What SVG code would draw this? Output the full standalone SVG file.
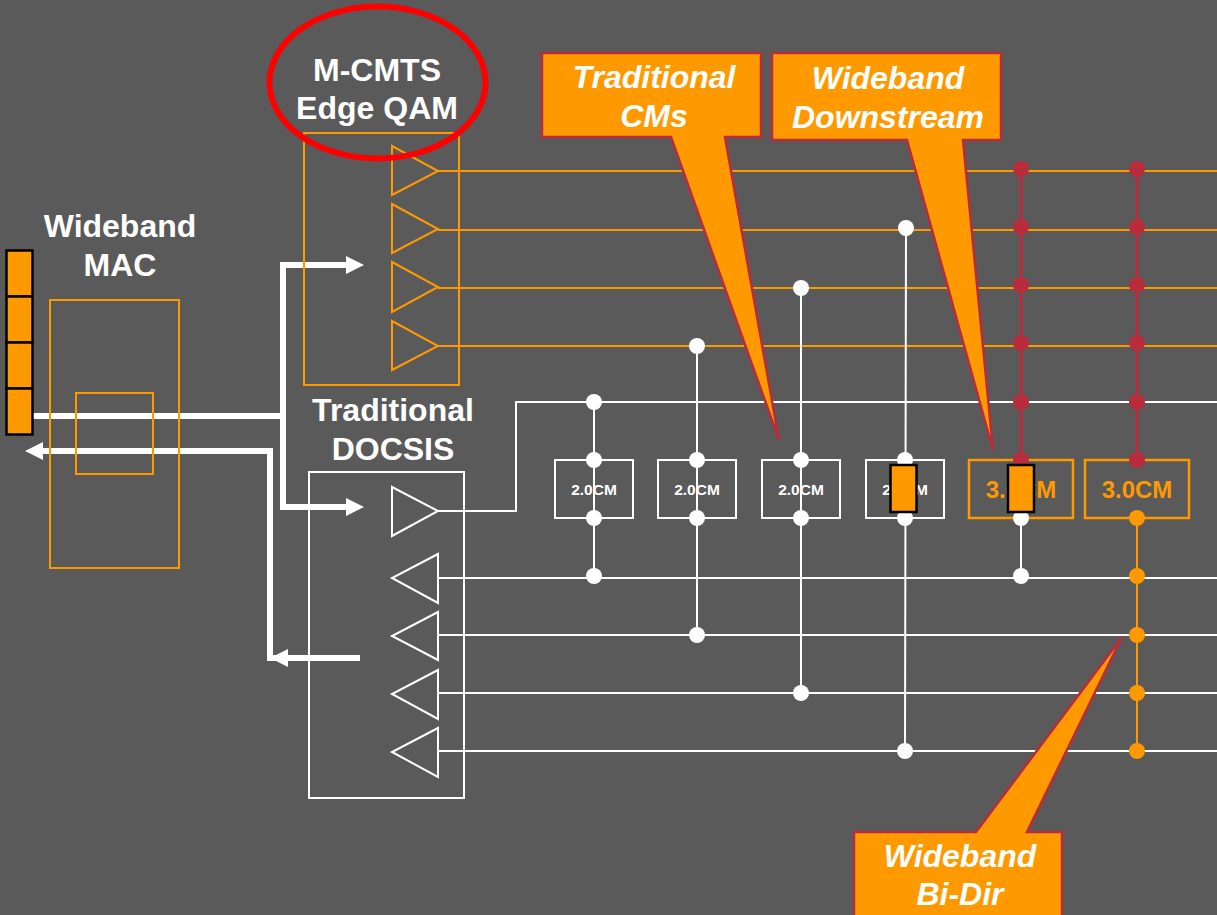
<svg xmlns="http://www.w3.org/2000/svg" width="1217" height="915" viewBox="0 0 1217 915">
<style>
.o{fill:none;stroke:#f90;stroke-width:2}
.w{fill:none;stroke:#fff;stroke-width:2}
.r{fill:none;stroke:#b82c3c;stroke-width:3}
.oc{fill:none;stroke:#f90;stroke-width:2.5}
.b{fill:none;stroke:#fff;stroke-width:6}
.ah{fill:#fff}
.dw{fill:#fff}.dr{fill:#b82c3c}.do{fill:#f90}
.cell{fill:#f90;stroke:#000;stroke-width:2.5}
.co{fill:#f90;stroke:#b82c3c;stroke-width:2.5}
text{font-family:"Liberation Sans",Arial,sans-serif;font-weight:bold;text-anchor:middle}
.t{fill:#fff;font-size:32px}
.i{fill:#fff;font-size:32px;font-style:italic}
.s{fill:#fff;font-size:15.5px}
.l{fill:#f90;font-size:24px}
</style>
<rect width="1217" height="915" fill="#5a5a5a"/>
<g id="connectors">
<path class="o" d="M438 171H1217M438 230H1217M438 288H1217M438 346H1217"/>
<path class="w" d="M438 511H516V402H1217M438 578H1217M438 635H1217M438 693H1217M438 751H1217"/>
<path class="w" d="M594 402V576M697 346V635M801 288V693M906 228L905 751M1021 518V576"/>
<path class="r" d="M1021 169V460M1137 169V460"/>
<path class="o" d="M1137 518V751"/>
<path class="b" d="M33 416H283M283 262V510M283 265H348M283 507H348M40 451H270V661M272 658H360"/>
<path class="ah" d="M364 265L346 256V274ZM364 507L346 498V516ZM25 451L43 442V460ZM270 658L288 649V667Z"/>
</g>
<g id="wideband-mac">
<rect class="o" x="50" y="300" width="129" height="268"/>
<rect class="o" x="76" y="393" width="77" height="81"/>
<text class="t" x="120" y="237">Wideband</text>
<text class="t" x="120" y="276">MAC</text>
</g>
<g id="queue">
<rect class="cell" x="6.500" y="250.500" width="26" height="46"/>
<rect class="cell" x="6.500" y="296.500" width="26" height="46"/>
<rect class="cell" x="6.500" y="342.500" width="26" height="46"/>
<rect class="cell" x="6.500" y="388.500" width="26" height="46"/>
</g>
<g id="edge-qam">
<rect class="o" x="304" y="133" width="155" height="252"/>
<path class="o" d="M392 146L438 171L392 195ZM392 204L438 229L392 253ZM392 262L438 287L392 312ZM392 321L438 346L392 370Z"/>
<text class="t" x="377" y="81">M-CMTS</text>
<text class="t" x="377" y="119">Edge QAM</text>
<ellipse cx="377.500" cy="82.500" rx="108" ry="76" fill="none" stroke="#f00" stroke-width="6"/>
</g>
<g id="docsis">
<rect class="w" x="309" y="472" width="155" height="326"/>
<path class="w" d="M392 487L438 511L392 536ZM438 554L392 578L438 603ZM438 612L392 636L438 660ZM438 670L392 694L438 719ZM438 728L392 752L438 777Z"/>
<text class="t" x="393" y="421">Traditional</text>
<text class="t" x="393" y="460">DOCSIS</text>
</g>
<g id="cm1"><rect class="w" x="555" y="460" width="78" height="58"/><text class="s" x="594" y="495">2.0CM</text>
<circle class="dw" cx="594" cy="402" r="8"/><circle class="dw" cx="594" cy="460" r="8"/><circle class="dw" cx="594" cy="518" r="8"/><circle class="dw" cx="594" cy="576" r="8"/></g>
<g id="cm2"><rect class="w" x="658" y="460" width="78" height="58"/><text class="s" x="697" y="495">2.0CM</text>
<circle class="dw" cx="697" cy="346" r="8"/><circle class="dw" cx="697" cy="460" r="8"/><circle class="dw" cx="697" cy="518" r="8"/><circle class="dw" cx="697" cy="635" r="8"/></g>
<g id="cm3"><rect class="w" x="762" y="460" width="78" height="58"/><text class="s" x="801" y="495">2.0CM</text>
<circle class="dw" cx="801" cy="288" r="8"/><circle class="dw" cx="801" cy="460" r="8"/><circle class="dw" cx="801" cy="518" r="8"/><circle class="dw" cx="801" cy="693" r="8"/></g>
<g id="cm4"><rect class="w" x="866" y="460" width="78" height="58"/><text class="s" x="905" y="495">2.0CM</text>
<circle class="dw" cx="906" cy="228" r="8"/><circle class="dw" cx="905" cy="460" r="8"/><circle class="dw" cx="905" cy="518" r="8"/><circle class="dw" cx="905" cy="751" r="8"/>
<rect class="cell" x="890.500" y="465" width="26" height="47"/></g>
<g id="cm5"><rect class="oc" x="969" y="460" width="104" height="58"/><text class="l" x="1021" y="498">3.0CM</text>
<circle class="dr" cx="1021" cy="169" r="8"/><circle class="dr" cx="1021" cy="227" r="8"/><circle class="dr" cx="1021" cy="285" r="8"/><circle class="dr" cx="1021" cy="343" r="8"/><circle class="dr" cx="1021" cy="402" r="8"/><circle class="dr" cx="1021" cy="460" r="8"/>
<circle class="dw" cx="1021" cy="518" r="8"/><circle class="dw" cx="1021" cy="576" r="8"/>
<rect class="cell" x="1008" y="465" width="26" height="47"/></g>
<g id="cm6"><rect class="oc" x="1085" y="460" width="104" height="58"/><text class="l" x="1137" y="498">3.0CM</text>
<circle class="dr" cx="1137" cy="169" r="8"/><circle class="dr" cx="1137" cy="227" r="8"/><circle class="dr" cx="1137" cy="285" r="8"/><circle class="dr" cx="1137" cy="343" r="8"/><circle class="dr" cx="1137" cy="402" r="8"/><circle class="dr" cx="1137" cy="460" r="8"/>
<circle class="do" cx="1137" cy="518" r="8"/><circle class="do" cx="1137" cy="576" r="8"/><circle class="do" cx="1137" cy="635" r="8"/><circle class="do" cx="1137" cy="693" r="8"/><circle class="do" cx="1137" cy="751" r="8"/></g>
<g id="callout-traditional">
<path class="co" d="M542 53H761V137H725L779 440L671 137H542Z"/>
<text class="i" x="654" y="88">Traditional</text>
<text class="i" x="654" y="127">CMs</text>
</g>
<g id="callout-downstream">
<path class="co" d="M772 53H1001V140H963L993 450L907 140H772Z"/>
<text class="i" x="888" y="89">Wideband</text>
<text class="i" x="888" y="128">Downstream</text>
</g>
<g id="callout-bidir">
<path class="co" d="M854 832H976L1122 637L1027 832H1062V925H854Z"/>
<text class="i" x="960" y="867">Wideband</text>
<text class="i" x="960" y="905">Bi-Dir</text>
</g>
</svg>
